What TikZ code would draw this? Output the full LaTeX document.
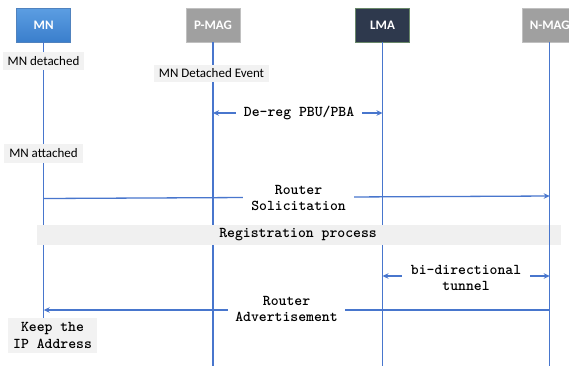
\documentclass[tikz,border=0pt]{standalone}
\usepackage{fontspec}
\setmainfont{Carlito}
\newcommand\codefont{\ttfamily}
\usetikzlibrary{arrows.meta}
\definecolor{lifeblue}{RGB}{72,118,205}
\definecolor{notegray}{RGB}{242,242,242}
\definecolor{bandgray}{RGB}{240,240,240}
\definecolor{magfill}{RGB}{160,160,160}
\definecolor{magdraw}{RGB}{192,192,192}
\definecolor{lmafill}{RGB}{46,57,77}
\definecolor{lmadraw}{RGB}{105,135,105}
\definecolor{mntop}{RGB}{92,158,226}
\definecolor{mnbot}{RGB}{58,126,204}
\definecolor{mndraw}{RGB}{80,130,190}
\tikzset{
  head/.style={minimum width=54pt, minimum height=34pt, inner sep=0pt,
    font=\fontsize{13}{15}\selectfont\bfseries, text=white, line width=0.6pt},
  note/.style={fill=notegray, inner sep=0pt, font=\fontsize{13}{15}\selectfont},
  msg/.style={font=\codefont\bfseries\fontsize{15}{16.5}\selectfont, align=center, inner ysep=1pt},
  life/.style={draw=lifeblue, line width=1.3pt},
  arr/.style={draw=lifeblue, line width=1.3pt, -{Stealth[length=6pt,width=5.5pt]}},
}
\begin{document}
\begin{tikzpicture}[x=1pt,y=-1pt]
\clip (0,0) rectangle (569,365);
\fill[white] (0,0) rectangle (569,365);
% header boxes
\node[head, draw=mndraw, top color=mntop, bottom color=mnbot] (mn) at (43.7,25) {MN};
\node[head, draw=magdraw, fill=magfill] (pmag) at (213,25) {P-MAG};
\node[head, draw=lmadraw, fill=lmafill] (lma) at (382.5,25) {LMA};
\node[head, draw=magdraw, fill=magfill] (nmag) at (549.7,25) {N-MAG};
% lifeline ends
\coordinate (mnend) at (43.7,318);
\coordinate (pmagend) at (213,366);
\coordinate (lmaend) at (382.5,366);
\coordinate (nmagend) at (549.7,366);
\draw[life] (mn.south) -- (mnend);
\draw[life] (pmag.south) -- (pmagend);
\draw[life] (lma.south) -- (lmaend);
% notes
\node[note, minimum width=81pt, minimum height=18pt] (det) at (43.5,61) {MN detached};
\node[note, minimum width=115pt, minimum height=17pt] (detev) at (211.5,73.5) {MN Detached Event};
\node[note, minimum width=79pt, minimum height=19pt] (att) at (43.5,153.5) {MN attached};
% de-reg
\node[msg, minimum width=126pt, inner xsep=0pt] (dereg) at (299,113) {De-reg PBU/PBA};
\draw[arr] (dereg.west) -- (dereg.west -| pmag.south);
\draw[arr] (dereg.east) -- (dereg.east -| lma.south);
% router solicitation
\coordinate (rsa) at (43.7,198.5);
\coordinate (rsb) at (549.7,196);
\draw[arr] (rsa) -- (rsb);
\node[msg, fill=white, minimum width=111pt, inner xsep=0pt] (rs) at (298.5,198) {Router\\Solicitation};
% registration band
\fill[bandgray] (37,225) rectangle (561,245);
\node[msg] (reg) at (298,235) {Registration process};
\draw[life] (nmag.south) -- (nmagend);
% tunnel
\node[msg, minimum width=128pt, inner xsep=0pt] (tun) at (466,278) {bi-directional\\tunnel};
\draw[arr] (tun.west |- 0,276) coordinate (tw) -- (tw -| lma.south);
\draw[arr] (tun.east |- 0,276) coordinate (te) -- (te -| nmag.south);
% router advertisement
\coordinate (rab) at (549.7,310);
\coordinate (raa) at (43.7,310);
\draw[arr] (rab) -- (raa);
\node[msg, fill=white, minimum width=117pt, inner xsep=0pt] (ra) at (286.5,309) {Router\\Advertisement};
% keep
\node[msg, fill=notegray, minimum width=89pt, minimum height=35pt, inner sep=0pt] (keep) at (52.5,335.5) {Keep the\\IP Address};
\end{tikzpicture}
\end{document}
